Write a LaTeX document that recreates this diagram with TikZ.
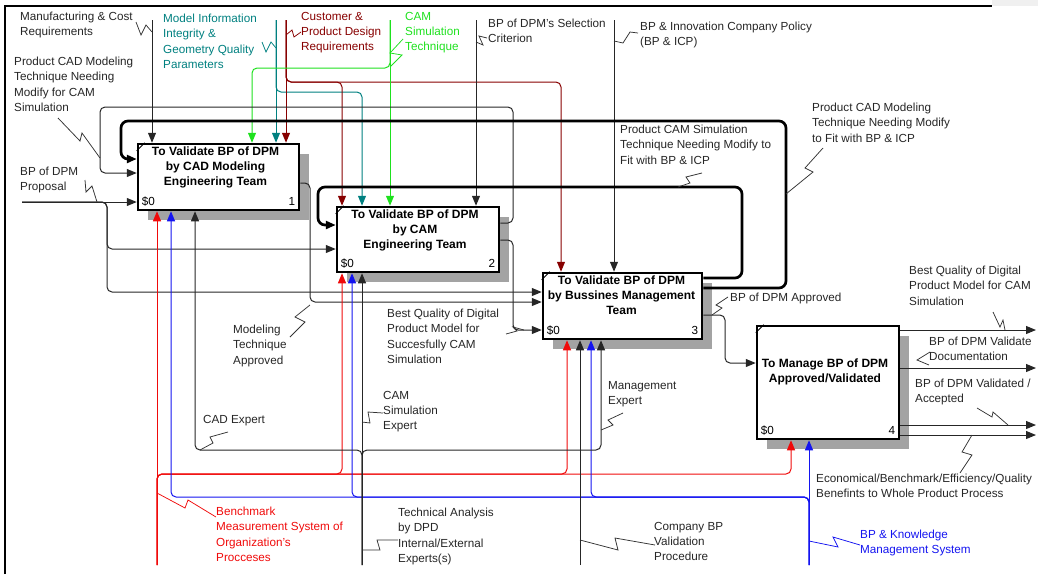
\documentclass[tikz,border=0pt]{standalone}
\usepackage{fontspec}
\setmainfont{Liberation Sans}
\usetikzlibrary{arrows.meta,calc}
\definecolor{cteal}{RGB}{0,128,128}
\definecolor{cdred}{RGB}{135,0,0}
\definecolor{cgreen}{RGB}{30,225,30}
\definecolor{cred}{RGB}{240,10,10}
\definecolor{cblue}{RGB}{20,20,240}
\begin{document}
\begin{tikzpicture}[x=1pt,y=-1pt,
  lbl/.style={inner sep=0pt, anchor=north west, align=left, font=\fontsize{11.7}{15.2}\selectfont, text=black!85},
  boxtxt/.style={inner sep=0pt, anchor=north, align=center, font=\fontsize{12}{15.3}\selectfont\bfseries},
  num/.style={inner sep=0pt, font=\fontsize{11.7}{14}\selectfont},
  fbox/.style={draw, line width=2.5pt, fill=white, inner sep=0pt},
  shad/.style={fill=black!36},
  ln/.style={line width=1pt, rounded corners=5pt, black!85},
  tk/.style={line width=2.7pt, rounded corners=7pt},
  arr/.style={-{Triangle[length=10pt,width=8pt]}},
  sq/.style={line width=0.75pt, black!80},
]
\useasboundingbox (0,0) rectangle (1038,574);
% frame
\fill[gray!12] (992,0) rectangle (1038,6);
\draw[line width=2.5pt] (5,574) -- (5,6) -- (992,6);

% shadows
\fill[shad] (148,154) rectangle (309,220);
\fill[shad] (347,217) rectangle (509,282);
\fill[shad] (553,283) rectangle (712,349);
\fill[shad] (767,336) rectangle (909,449);

% boxes
\node[fbox, minimum width=161pt, minimum height=66pt] (b1) at (218.5,177) {};
\node[fbox, minimum width=162pt, minimum height=65pt] (b2) at (418,239.5) {};
\node[fbox, minimum width=159pt, minimum height=66pt] (b3) at (622.5,306) {};
\node[fbox, minimum width=142pt, minimum height=113pt] (b4) at (828,382.5) {};

\foreach \b in {b1,b2,b3,b4}{
  \draw[line width=0.9pt] ($(\b.north west)+(0,8)$) -- ($(\b.north west)+(8,0)$);
}

\node[boxtxt] (t1) at ($(b1.north)+(-3,3.5)$) {To Validate BP of DPM\\by CAD Modeling\\Engineering Team};
\node[boxtxt] (t2) at ($(b2.north)+(-3,3.5)$) {To Validate BP of DPM\\by CAM\\Engineering Team};
\node[boxtxt] (t3) at ($(b3.north)+(-1,3.5)$) {To Validate BP of DPM\\by Bussines Management\\Team};
\node[boxtxt] (t4) at ($(b4.north)+(-3,33.5)$) {To Manage BP of DPM\\Approved/Validated};

\node[num, anchor=west] (d1) at ($(b1.south west)+(5,-10)$) {\$0};
\node[num, anchor=east] (n1) at ($(b1.south east)+(-5,-10)$) {1};
\node[num, anchor=west] (d2) at ($(b2.south west)+(5,-10)$) {\$0};
\node[num, anchor=east] (n2) at ($(b2.south east)+(-5,-10)$) {2};
\node[num, anchor=west] (d3) at ($(b3.south west)+(5,-10)$) {\$0};
\node[num, anchor=east] (n3) at ($(b3.south east)+(-5,-10)$) {3};
\node[num, anchor=west] (d4) at ($(b4.south west)+(5,-10)$) {\$0};
\node[num, anchor=east] (n4) at ($(b4.south east)+(-5,-10)$) {4};

% free ends
\coordinate (cMfg) at (152,20);
\coordinate (cTeal) at (276,20);
\coordinate (cDred) at (286,20);
\coordinate (cGreen) at (390,20);
\coordinate (cSel) at (476,20);
\coordinate (cIcp) at (614,20);
\coordinate (cProp) at (22,202);
\coordinate (cBench) at (157,565);
\coordinate (cTech) at (362,565);
\coordinate (cComp) at (580,565);
\coordinate (cKnow) at (809,565);
\coordinate (oQual) at (1036,330);
\coordinate (oDoc) at (1036,368);
\coordinate (oAcc) at (1036,425);
\coordinate (oEcon) at (1036,435);

% controls
\draw[ln,arr] (cMfg) -- (cMfg |- b1.north);
\draw[ln,arr,cteal] (cTeal) -- (cTeal |- b1.north);
\draw[ln,arr,cteal] (cTeal) -- (276,92) -- (362,92) -- (362,0 |- b2.north);
\draw[ln,arr,cdred] (cDred) -- (cDred |- b1.north);
\draw[ln,arr,cdred] (cDred) -- (286,82) -- (342,82) -- (342,0 |- b2.north);
\draw[ln,arr,cdred] (cDred) -- (286,82) -- (561,82) -- (561,0 |- b3.north);
\draw[ln,arr,cgreen] (cGreen) -- (cGreen |- b2.north);
\draw[ln,arr,cgreen] (cGreen) -- (390,68) -- (252,68) -- (252,0 |- b1.north);
\draw[ln,arr] (cSel) -- (cSel |- b2.north);
\draw[ln,arr] (cIcp) -- (cIcp |- b3.north);

% feedback and flows
\draw[ln,arr] (b2.east |- 0,223) -- (513,223) -- (513,107) -- (100,107) -- (100,173) -- (b1.west |- 0,173);
\draw[ln,arr] (b1.east |- 0,183) -- (310,183) -- (310,302) -- (b3.west |- 0,302);
\draw[ln,arr] (b2.east |- 0,240) -- (513,240) -- (513,330) -- (b3.west |- 0,330);
\draw[tk,arr] (b3.east |- 0,288) -- (786,288) -- (786,121) -- (121,121) -- (121,159) -- (b1.west |- 0,159);
\draw[tk,arr] (b3.east |- 0,278) -- (742,278) -- (742,187) -- (318,187) -- (318,225) -- (b2.west |- 0,225);
\draw[ln,arr] (cProp) -- (b1.west |- cProp);
\draw[ln,arr] (cProp) -- (107,202) -- (107,249) -- (b2.west |- 0,249);
\draw[ln,arr] (cProp) -- (107,202) -- (107,292) -- (b3.west |- 0,292);
\draw[ln,arr] (b3.east |- 0,315) -- (725,315) -- (725,363) -- (b4.west |- 0,363);
\draw[ln,arr] (b4.east |- oQual) -- (oQual);
\draw[ln,arr] (b4.east |- oDoc) -- (oDoc);
\draw[ln,arr] (b4.east |- oAcc) -- (oAcc);
\draw[ln,arr] (b4.east |- oEcon) -- (oEcon);

% mechanisms
\draw[ln,arr,cred] (cBench) -- (cBench |- b1.south);
\draw[ln,arr,cred] (cBench) -- (157,474) -- (342,474) -- (342,0 |- b2.south);
\draw[ln,arr,cred] (cBench) -- (157,474) -- (567,474) -- (567,0 |- b3.south);
\draw[ln,arr,cred] (cBench) -- (157,474) -- (791,474) -- (791,0 |- b4.south);
\draw[ln,arr,cblue] (cKnow) -- (cKnow |- b4.south);
\draw[ln,arr,cblue] (cKnow) -- (809,497) -- (591,497) -- (591,0 |- b3.south);
\draw[ln,arr,cblue] (cKnow) -- (809,497) -- (352,497) -- (352,0 |- b2.south);
\draw[ln,arr,cblue] (cKnow) -- (809,497) -- (171,497) -- (171,0 |- b1.south);
\draw[ln,arr] (cTech) -- (cTech |- b2.south);
\draw[ln,arr] (cTech) -- (362,450) -- (195,450) -- (195,0 |- b1.south);
\draw[ln,arr] (cTech) -- (362,450) -- (601,450) -- (601,0 |- b3.south);
\draw[ln,arr] (cComp) -- (cComp |- b3.south);

% labels
\node[lbl] (lMfg) at (20,12) {Manufacturing \& Cost\\Requirements};
\node[lbl, text=cteal] (lModel) at (163,14) {Model Information\\Integrity \&\\Geometry Quality\\Parameters};
\node[lbl, text=cdred] (lCust) at (301,12) {Customer \&\\Product Design\\Requirements};
\node[lbl, text=cgreen] (lCam) at (405,12) {CAM\\Simulation\\Technique};
\node[lbl] (lSel) at (488,19) {BP of DPM's Selection\\Criterion};
\node[lbl] (lIcp) at (640,22) {BP \& Innovation Company Policy\\(BP \& ICP)};
\node[lbl] (lPcad) at (14,57) {Product CAD Modeling\\Technique Needing\\Modify for CAM\\Simulation};
\node[lbl] (lProp) at (20,167) {BP of DPM\\Proposal};
\node[lbl] (lFitCad) at (812,103) {Product CAD Modeling\\Technique Needing Modify\\to Fit with BP \& ICP};
\node[lbl] (lFitCam) at (620,125) {Product CAM Simulation\\Technique Needing Modify to\\Fit with BP \& ICP};
\node[lbl] (lModApp) at (233,325) {Modeling\\Technique\\Approved};
\node[lbl] (lBestMid) at (387,309) {Best Quality of Digital\\Product Model for\\Succesfully CAM\\Simulation};
\node[lbl] (lApp) at (730,293) {BP of DPM Approved};
\node[lbl] (lBestR) at (909,266) {Best Quality of Digital\\Product Model for CAM\\Simulation};
\node[lbl] (lDoc) at (929,337) {BP of DPM Validate\\Documentation};
\node[lbl] (lAcc) at (915,379) {BP of DPM Validated /\\Accepted};
\node[lbl] (lEcon) at (816,474) {Economical/Benchmark/Efficiency/Quality\\Benefints to Whole Product Process};
\node[lbl, text=cblue] (lKnow) at (860,530) {BP \& Knowledge\\Management System};
\node[lbl] (lComp) at (654,522) {Company BP\\Validation\\Procedure};
\node[lbl] (lTech) at (398,508) {Technical Analysis\\by DPD\\Internal/External\\Experts(s)};
\node[lbl, text=cred] (lBench) at (216,507) {Benchmark\\Measurement System of\\Organization's\\Procceses};
\node[lbl] (lCadE) at (203,415) {CAD Expert};
\node[lbl] (lCamE) at (383,391) {CAM\\Simulation\\Expert};
\node[lbl] (lMgmt) at (608,381) {Management\\Expert};

% squiggles
\draw[sq] (136,22) -- (141,35) -- (146,25) -- (152,32);
\draw[sq, cteal] (262,42) -- (266,52) -- (271,42) -- (276,48);
\draw[sq, cdred] (301,32) -- (294,37) -- (292,30) -- (286,35);
\draw[sq, cgreen] (403,39) -- (390,53) -- (402,55) -- (390,67);
\draw[sq] (487,38) -- (479,36) -- (483,45) -- (476,42);
\draw[sq] (638,33) -- (630,32) -- (623,43) -- (614,41);
\draw[sq] (58,118) -- (80,141) -- (82,133) -- (100,158);
\draw[sq] (85,180) -- (86,192) -- (92,186) -- (97,202);
\draw[sq] (823,148) -- (805,168) -- (813,172) -- (786,194);
\draw[sq] (702,173) -- (686,177) -- (690,183) -- (678,187);
\draw[sq] (712,315) -- (722,308) -- (716,305) -- (728,297);
\draw[sq] (506,334) -- (517,331) -- (513,327) -- (524,330);
\draw[sq] (290,337) -- (305,322) -- (295,317) -- (310,305);
\draw[sq] (200,450) -- (213,443) -- (210,437) -- (228,432);
\draw[sq] (362,422) -- (370,423) -- (368,412) -- (383,413);
\draw[sq] (601,430) -- (613,425) -- (608,420) -- (623,413);
\draw[sq] (362,550) -- (380,550) -- (377,540) -- (398,540);
\draw[sq] (580,540) -- (618,550) -- (615,538) -- (655,545);
\draw[sq, cblue] (809,541) -- (838,547) -- (833,537) -- (860,545);
\draw[sq, cred] (157,493) -- (185,508) -- (188,500) -- (216,517);
\draw[sq] (972,435) -- (962,452) -- (972,455) -- (960,473);
\draw[sq] (977,408) -- (992,417) -- (993,412) -- (1008,425);
\draw[sq] (993,312) -- (1000,327) -- (1003,320) -- (1005,330);
\draw[sq] (930,352) -- (917,360) -- (929,365);
\end{tikzpicture}
\end{document}
